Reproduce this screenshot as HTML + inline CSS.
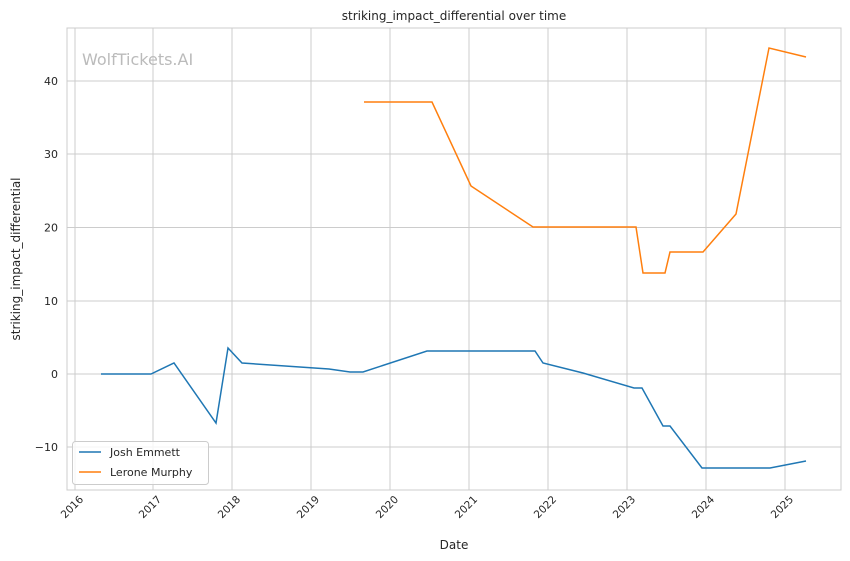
<!DOCTYPE html>
<html><head><meta charset="utf-8"><style>
body{margin:0;background:#fff;}
svg{display:block;font-family:"DejaVu Sans","Liberation Sans",sans-serif;}
</style></head><body>
<svg width="850" height="561" xmlns="http://www.w3.org/2000/svg">
<rect width="850" height="561" fill="#fff"/>
<g stroke="#cccccc" stroke-width="1">
<line x1="75" y1="28" x2="75" y2="490"/><line x1="153" y1="28" x2="153" y2="490"/><line x1="232" y1="28" x2="232" y2="490"/><line x1="311" y1="28" x2="311" y2="490"/><line x1="390" y1="28" x2="390" y2="490"/><line x1="469" y1="28" x2="469" y2="490"/><line x1="548" y1="28" x2="548" y2="490"/><line x1="627" y1="28" x2="627" y2="490"/><line x1="706" y1="28" x2="706" y2="490"/><line x1="785" y1="28" x2="785" y2="490"/>
<line x1="67" y1="81" x2="841" y2="81"/><line x1="67" y1="154" x2="841" y2="154"/><line x1="67" y1="227.5" x2="841" y2="227.5"/><line x1="67" y1="301" x2="841" y2="301"/><line x1="67" y1="374" x2="841" y2="374"/><line x1="67" y1="447" x2="841" y2="447"/>
</g>
<rect x="67" y="28" width="774" height="462" fill="none" stroke="#cccccc" stroke-width="1"/>
<text x="82" y="65" font-size="16" fill="#bbbbbb">WolfTickets.AI</text>
<text x="454" y="20" font-size="12" text-anchor="middle" fill="#262626">striking_impact_differential over time</text>
<g font-size="11" fill="#262626" text-anchor="end">
<text x="58" y="85">40</text><text x="58" y="158">30</text><text x="58" y="231.5">20</text><text x="58" y="305">10</text><text x="58" y="378">0</text><text x="58" y="451">−10</text>
</g>
<g font-size="10.5" fill="#262626" text-anchor="end">
<text transform="translate(84,500) rotate(-45)">2016</text><text transform="translate(162,500) rotate(-45)">2017</text><text transform="translate(241,500) rotate(-45)">2018</text><text transform="translate(320,500) rotate(-45)">2019</text><text transform="translate(399,500) rotate(-45)">2020</text><text transform="translate(478,500) rotate(-45)">2021</text><text transform="translate(557,500) rotate(-45)">2022</text><text transform="translate(636,500) rotate(-45)">2023</text><text transform="translate(715,500) rotate(-45)">2024</text><text transform="translate(794,500) rotate(-45)">2025</text>
</g>
<text x="454" y="549" font-size="12" text-anchor="middle" fill="#262626">Date</text>
<text transform="translate(20,259) rotate(-90)" font-size="12" text-anchor="middle" fill="#262626">striking_impact_differential</text>
<polyline fill="none" stroke="#1f77b4" stroke-width="1.5" points="101,374 151,374 174,363 216,423 228,348 242,363 329,369 350,372 363,372 427,351 535,351 543,363 583,373 634,388 642,388 663,426 670,426 702,468 770,468 806,461"/>
<polyline fill="none" stroke="#ff7f0e" stroke-width="1.5" points="364,102 432,102 471,186 533,227 636,227 643,273 665,273 670,252 703,252 736,214 769,48 806,57"/>
<rect x="72.5" y="441.5" width="136" height="43" rx="3" fill="#fff" fill-opacity="0.8" stroke="#cccccc"/>
<line x1="79" y1="452" x2="101" y2="452" stroke="#1f77b4" stroke-width="1.5"/>
<line x1="79" y1="472" x2="101" y2="472" stroke="#ff7f0e" stroke-width="1.5"/>
<text x="110" y="456" font-size="11" fill="#262626">Josh Emmett</text>
<text x="110" y="476" font-size="11" fill="#262626">Lerone Murphy</text>
</svg>
</body></html>
